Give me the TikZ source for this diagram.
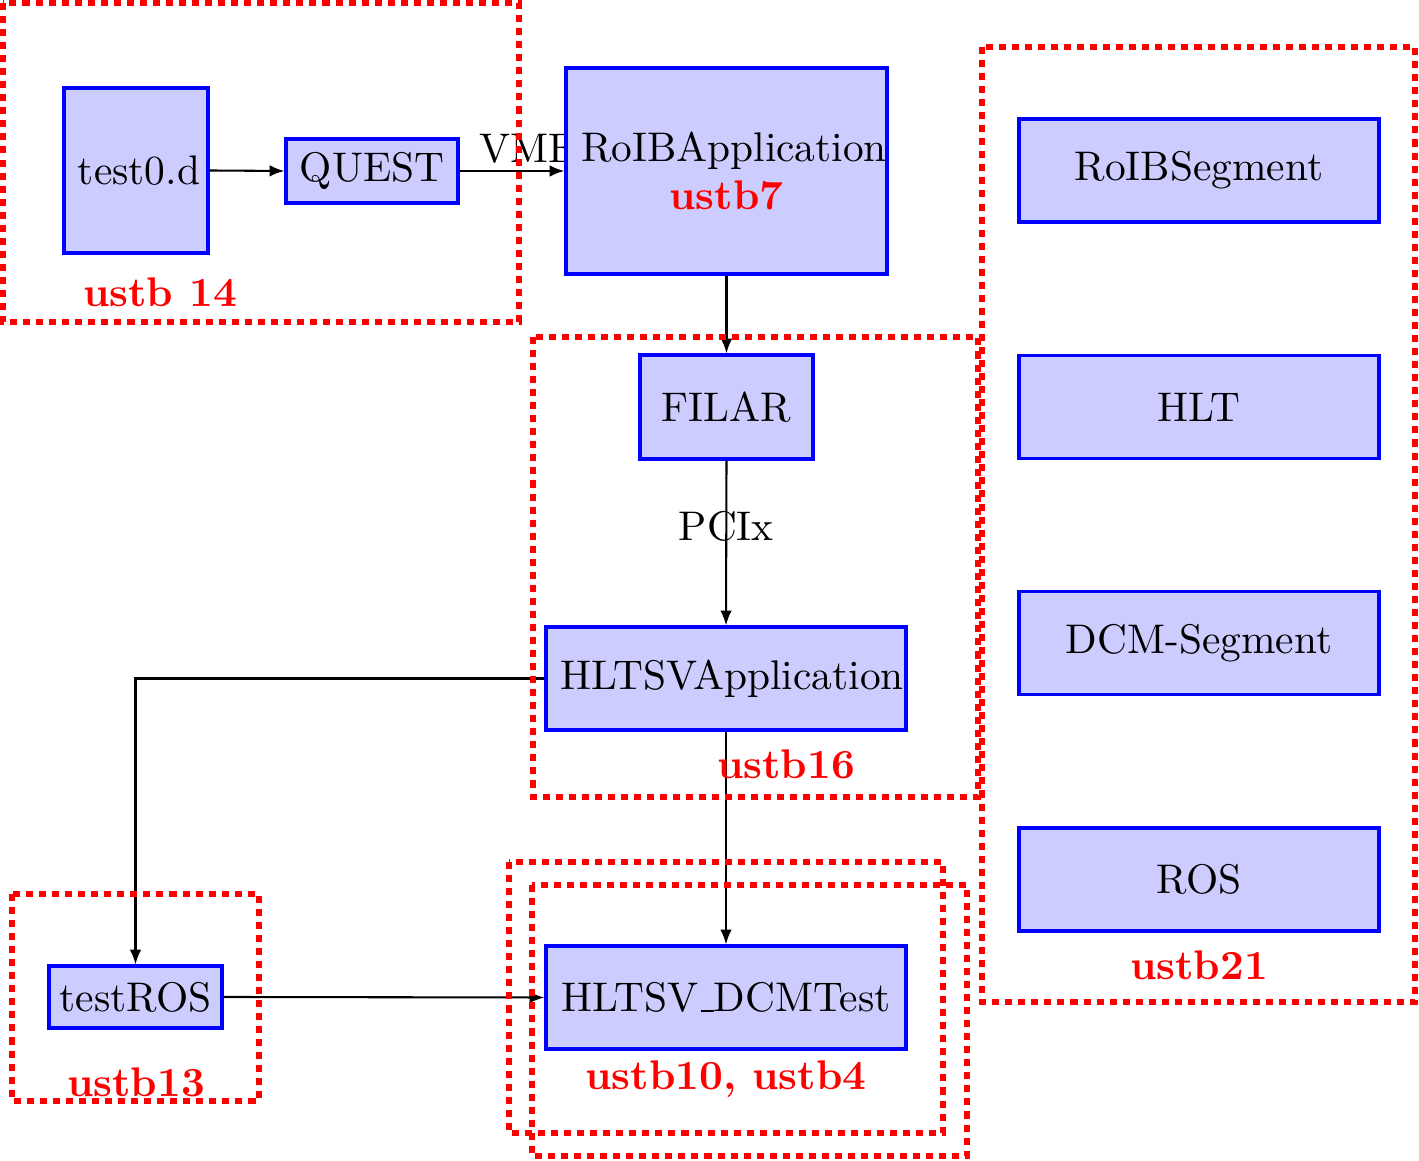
\documentclass[tikz,border=0pt]{standalone}
\usetikzlibrary{arrows.meta}
\newlength\pxu
\setlength\pxu{0.2415pt}
\newcommand\lowbar{\leavevmode\kern.06em\vbox{\hrule width.3em}}
\begin{document}
\begin{tikzpicture}[x=\pxu,y=-\pxu,
  blk/.style={draw=blue,fill=blue!20,line width=0.75pt,rectangle,inner sep=0pt,align=center},
  grp/.style={draw=red,line width=1.6pt,dash pattern=on 1.7pt off 1.45pt},
  grplabel/.style={text=red,font=\bfseries,inner sep=0pt},
  conn/.style={line width=0.5pt,-{Latex[length=3.6pt,width=2.8pt]}},
  plain/.style={line width=0.5pt}]
\useasboundingbox (0,0) rectangle (1419,1161);
% nodes
\node[blk,minimum width=144*\pxu,minimum height=165*\pxu] (test0) at (136,170.5) {\hspace*{6\pxu}test0.d};
\node[blk,minimum width=172*\pxu,minimum height=64*\pxu] (quest) at (372,171) {QUEST};
\node[inner sep=0pt,anchor=base west] (vme) at (479,163) {VME};
\node[blk,minimum width=319*\pxu,minimum height=206*\pxu] (roib) at (726.5,171) {\hspace*{15\pxu}RoIBApplication\\[-0.5pt]\textcolor{red}{\textbf{ustb7}}};
\node[blk,minimum width=173*\pxu,minimum height=104*\pxu] (filar) at (726.5,407) {FILAR};
\node[blk,minimum width=360*\pxu,minimum height=103*\pxu] (hltsv) at (726,678.5) {\hspace*{12\pxu}HLTSVApplication};
\node[blk,minimum width=360*\pxu,minimum height=103*\pxu] (dcmt) at (726,997.5) {HLTSV\lowbar DCMTest};
\node[blk,minimum width=173*\pxu,minimum height=62*\pxu] (testros) at (135.5,997) {testROS};
\node[blk,minimum width=360*\pxu,minimum height=103*\pxu] (roibseg) at (1199,170.5) {RoIBSegment};
\node[blk,minimum width=360*\pxu,minimum height=103*\pxu] (hlt) at (1199,407) {HLT};
\node[blk,minimum width=360*\pxu,minimum height=103*\pxu] (dcmseg) at (1199,643) {DCM-Segment};
\node[blk,minimum width=360*\pxu,minimum height=103*\pxu] (ros) at (1199,879.5) {ROS};
% connectors
\draw[conn] (test0.east) -- (quest.west);
\draw[conn] (quest.east) -- (roib.west);
\draw[conn] (roib.south) -- (filar.north);
\draw[conn] (filar.south) -- node[inner sep=0pt,pos=0.4] (pcix) {PCIx} (hltsv.north);
\draw[conn] (hltsv.south) -- (dcmt.north);
\draw[conn] (hltsv.west) -| (testros.north);
\draw[conn] (testros.east) -- (dcmt.west);
% group labels
\node[grplabel] (l14) at (160,292) {ustb 14};
\node[grplabel] (l16) at (786,764) {ustb16};
\node[grplabel] (l21) at (1199,965) {ustb21};
\node[grplabel] (l13) at (136,1082) {ustb13};
\node[grplabel] (l104) at (726,1079) {ustb10, ustb4};
% groups
\draw[grp] (3,3) rectangle (519,322);
\draw[grp] (533,337) rectangle (978,797);
\draw[grp] (982,47) rectangle (1415,1002);
\draw[grp] (12,894) rectangle (259,1101);
\draw[grp] (509,862) rectangle (943,1133);
\draw[grp] (532,885) rectangle (967,1156);
\end{tikzpicture}
\end{document}
